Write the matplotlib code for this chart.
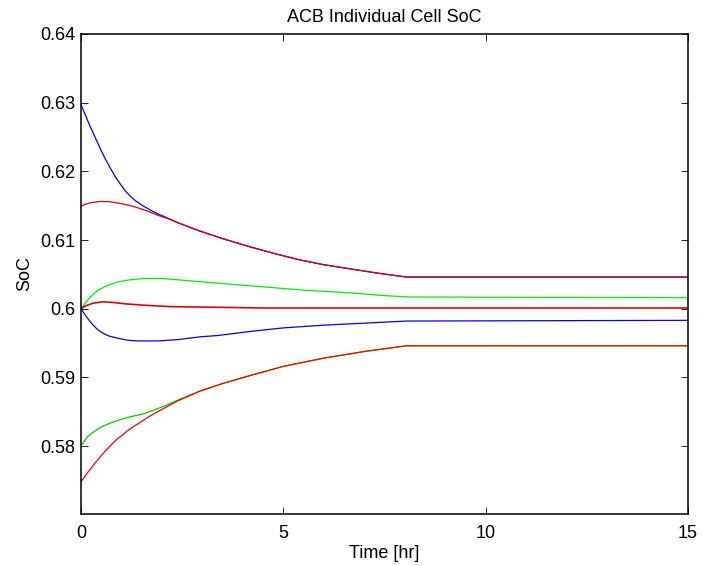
import matplotlib
matplotlib.use("Agg")
import matplotlib.pyplot as plt

plt.rcParams['font.family'] = ['Liberation Sans', 'DejaVu Sans']

# Series (time in hr, SoC)
t_blue_top = [0, 0.08, 0.15, 0.22, 0.3, 0.4, 0.5, 0.6, 0.75, 0.87, 1.0, 1.1, 1.25, 1.35, 1.5, 1.7, 1.9, 2.1,
              2.4, 2.94, 3.5, 4.18, 4.8, 5.41, 6.0, 6.65, 7.3, 8.05, 15]
v_blue_top = [0.6297, 0.6286, 0.6276, 0.6266, 0.6256, 0.6243, 0.6230, 0.6218, 0.6202, 0.6190, 0.6179, 0.6171,
              0.6162, 0.6157, 0.6151, 0.6144, 0.6138, 0.6133, 0.6125, 0.6113, 0.6102, 0.6090, 0.6080, 0.6071,
              0.6064, 0.6058, 0.6052, 0.6046, 0.6046]

t_red_top = [0, 0.1, 0.22, 0.33, 0.45, 0.67, 0.9, 1.16, 1.4, 1.65, 1.9, 2.2, 2.4, 2.94, 3.5, 4.18, 4.8, 5.41,
             6.0, 6.65, 7.3, 8.05, 15]
v_red_top = [0.6149, 0.6152, 0.6154, 0.6155, 0.6156, 0.6156, 0.6154, 0.6151, 0.6147, 0.6142, 0.6136, 0.6130,
             0.6125, 0.6113, 0.6102, 0.6090, 0.6080, 0.6071, 0.6064, 0.6058, 0.6052, 0.6046, 0.6046]

t_green_mid = [0, 0.1, 0.2, 0.3, 0.42, 0.55, 0.7, 0.91, 1.2, 1.57, 2.0, 2.4, 3.39, 4.67, 5.5, 6.65, 7.5, 8.13, 15]
v_green_mid = [0.6000, 0.6008, 0.6015, 0.6021, 0.6027, 0.6031, 0.6035, 0.6039, 0.6042, 0.6044, 0.6044, 0.6042,
               0.6037, 0.6031, 0.6027, 0.6023, 0.6019, 0.6017, 0.6016]

t_red_mid = [0, 0.08, 0.15, 0.3, 0.54, 0.8, 1.1, 1.57, 2.2, 3.39, 4.5, 15]
v_red_mid = [0.6000, 0.6003, 0.6005, 0.6008, 0.6010, 0.6009, 0.6007, 0.6005, 0.6003, 0.6002, 0.6001, 0.6001]

t_blue_mid = [0, 0.1, 0.2, 0.3, 0.42, 0.55, 0.7, 0.91, 1.15, 1.41, 1.9, 2.4, 2.94, 3.39, 4.2, 5.0, 6.0, 7.04,
              8.05, 15]
v_blue_mid = [0.6000, 0.5991, 0.5983, 0.5976, 0.5969, 0.5964, 0.5960, 0.5957, 0.5954, 0.5953, 0.5953, 0.5955,
              0.5959, 0.5961, 0.5967, 0.5972, 0.5976, 0.5979, 0.5982, 0.5983]

t_green_low = [0, 0.08, 0.17, 0.3, 0.42, 0.58, 0.75, 1.0, 1.24, 1.5, 1.74, 2.05, 2.4, 2.94, 3.5, 4.2, 5.0, 6.0,
               7.04, 8.05, 15]
v_green_low = [0.5800, 0.5807, 0.5814, 0.5820, 0.5825, 0.5830, 0.5834, 0.5839, 0.5843, 0.5846, 0.5851, 0.5858,
               0.5867, 0.5880, 0.5891, 0.5903, 0.5916, 0.5928, 0.5938, 0.5946, 0.5946]

t_red_low = [0, 0.12, 0.25, 0.37, 0.5, 0.62, 0.75, 0.87, 1.0, 1.12, 1.24, 1.5, 1.74, 2.05, 2.4, 2.94, 3.5, 4.2,
             5.0, 6.0, 7.04, 8.05, 15]
v_red_low = [0.5748, 0.5758, 0.5768, 0.5777, 0.5786, 0.5794, 0.5802, 0.5809, 0.5815, 0.5821, 0.5826, 0.5836,
             0.5845, 0.5855, 0.5866, 0.5880, 0.5891, 0.5903, 0.5916, 0.5928, 0.5938, 0.5946, 0.5946]

x_ticks = [0, 5, 10, 15]
y_ticks = [0.58, 0.59, 0.60, 0.61, 0.62, 0.63, 0.64]
y_tick_labels = ['0.58', '0.59', '0.6', '0.61', '0.62', '0.63', '0.64']

fig = plt.figure(figsize=(7.02, 5.66), dpi=100)
ax = fig.add_axes([81 / 702, 1 - 514 / 566, (688 - 81) / 702, (514 - 34) / 566])

lw = 0.9
ax.plot(t_blue_top, v_blue_top, color='#0000ff', lw=lw)
ax.plot(t_blue_mid, v_blue_mid, color='#0000ff', lw=lw)
ax.plot(t_green_mid, v_green_mid, color='#00ee00', lw=lw)
ax.plot(t_green_low, v_green_low, color='#00cc00', lw=lw)
ax.plot(t_red_top, v_red_top, color='#dd0000', lw=lw)
ax.plot(t_red_mid, v_red_mid, color='#e00000', lw=lw * 1.3)
ax.plot(t_red_low, v_red_low, color='#ff0000', lw=lw)

ax.set_xlim(0, 15)
ax.set_ylim(0.5701, 0.64)
ax.set_xticks(x_ticks)
ax.set_xticklabels([str(v) for v in x_ticks])
ax.set_yticks(y_ticks)
ax.set_yticklabels(y_tick_labels)

fs = 13
ax.tick_params(direction='in', length=5, width=0.6, top=True, right=True, labelsize=fs)
ax.tick_params(axis='x', pad=8)
ax.tick_params(axis='y', pad=4)
for s in ax.spines.values():
    s.set_linewidth(1.1)

ax.set_title('ACB Individual Cell SoC', fontsize=fs, pad=9)
ax.set_xlabel('Time [hr]', fontsize=fs, labelpad=2)
ax.set_ylabel('SoC', fontsize=fs, labelpad=5)

fig.savefig('out.png', dpi=100)
